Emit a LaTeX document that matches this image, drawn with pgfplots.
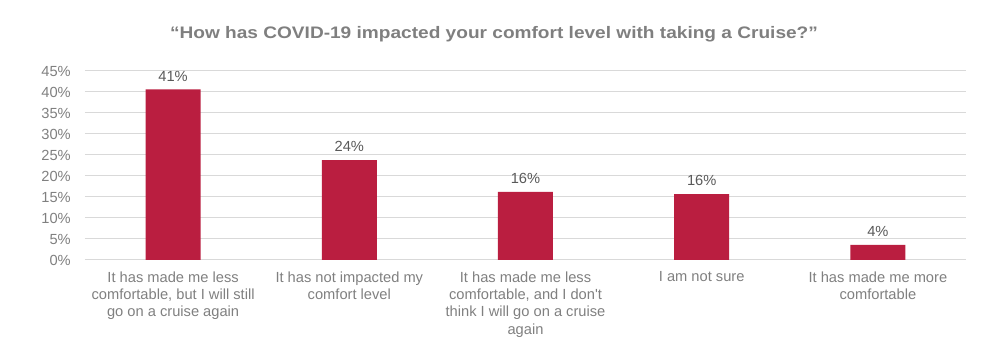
\documentclass[border=0pt]{standalone}
\usepackage{pgfplots}
\pgfplotsset{compat=1.18}
\usepackage{fontspec}
\setmainfont{Liberation Sans}
\definecolor{barred}{RGB}{186,30,64}
\definecolor{tickgray}{RGB}{128,128,128}
\definecolor{labgray}{RGB}{89,89,89}
\definecolor{titlegray}{RGB}{127,127,127}
\definecolor{gridgray}{RGB}{217,217,217}
\begin{document}
\begin{tikzpicture}[x=0.75pt,y=0.75pt]
\path[use as bounding box] (0,0) rectangle (986,359);
\node[font=\bfseries\fontsize{12.5}{15}\selectfont, text=titlegray, anchor=base] at (494,320) {\scalebox{1.145}[1]{“How has COVID-19 impacted your comfort level with taking a Cruise?”}};
\begin{axis}[
  at={(63.75pt,74.25pt)}, anchor=south west,
  scale only axis, width=660.75pt, height=141.75pt,
  xmin=-0.5, xmax=4.5, ymin=0, ymax=45,
  enlargelimits=false,
  ybar, bar width=41.25pt,
  ytick={0,5,...,45},
  yticklabel={\pgfmathprintnumber{\tick}\%},
  /pgf/number format/assume math mode=true,
  ymajorgrids, grid style={draw=gridgray, line width=0.75pt},
  axis line style={draw=none},
  major tick length=0pt,
  xtick={0,1,2,3,4},
  xticklabels={{It has made me less\\comfortable, but I will still\\go on a cruise again},
               {It has not impacted my\\comfort level},
               {It has made me less\\comfortable, and I don\textquotesingle t\\think I will go on a cruise\\again},
               {I am not sure},
               {It has made me more\\comfortable}},
  xticklabel style={align=center, anchor=north, inner sep=0pt, yshift=-8.5pt,
    font=\fontsize{11}{13}\selectfont, text=tickgray},
  yticklabel style={anchor=east, inner sep=0pt, xshift=-10.5pt,
    font=\fontsize{11}{13}\selectfont, text=tickgray},
  point meta=y,
  nodes near coords={\pgfmathprintnumber[fixed,precision=0]{\pgfplotspointmeta}\%},
  every node near coord/.append style={font=\fontsize{11}{13}\selectfont, text=labgray,
    anchor=south, inner sep=0pt, yshift=6pt},
]
\addplot[fill=barred, draw=none] coordinates {(0,40.6) (1,23.8) (2,16.2) (3,15.7) (4,3.6)};
\end{axis}
\end{tikzpicture}
\end{document}
